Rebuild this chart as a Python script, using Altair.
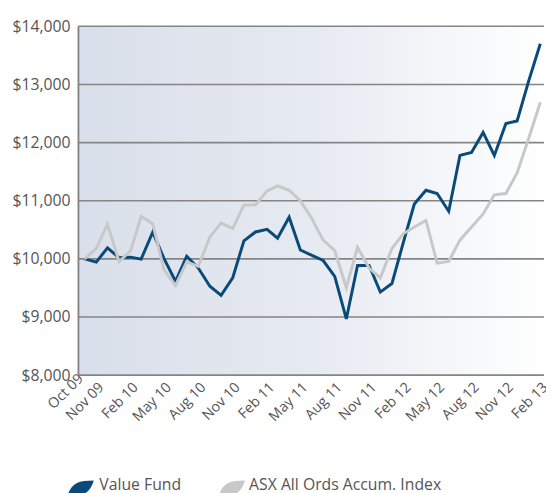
import altair as alt
import pandas as pd

# ---- data ----
months = pd.date_range("2009-10-01", "2013-02-01", freq="MS").strftime("%Y-%m-%d").tolist()

value_fund = [10000, 9945, 10190, 10020, 10030, 9995, 10460, 10010, 9615, 10045,
              9842, 9530, 9373, 9673, 10311, 10463, 10508, 10356, 10717, 10152,
              10060, 9972, 9700, 8966, 9887, 9887, 9429, 9576, 10293, 10944,
              11181, 11124, 10819, 11780, 11830, 12175, 11780, 12327, 12373, 13063,
              13700]

asx_index = [10000, 10180, 10593, 9955, 10140, 10733, 10605, 9814, 9542, 9950,
             9870, 10378, 10615, 10520, 10927, 10932, 11170, 11254, 11180, 11000,
             10690, 10322, 10141, 9503, 10198, 9842, 9673, 10180, 10435, 10548,
             10661, 9927, 9955, 10322, 10548, 10774, 11102, 11124, 11480, 12073,
             12695]

series_names = ["Value Fund", "ASX All Ords Accum. Index"]
series_colors = ["#0a4a7b", "#c8c8c8"]

x_tick_dates = ["2009-10-01", "2009-11-01", "2010-02-01", "2010-05-01", "2010-08-01",
                "2010-11-01", "2011-02-01", "2011-05-01", "2011-08-01", "2011-11-01",
                "2012-02-01", "2012-05-01", "2012-08-01", "2012-11-01", "2013-02-01"]
x_tick_labels = ["Oct 09", "Nov 09", "Feb 10", "May 10", "Aug 10", "Nov 10", "Feb 11",
                 "May 11", "Aug 11", "Nov 11", "Feb 12", "May 12", "Aug 12", "Nov 12",
                 "Feb 13"]
y_ticks = [8000, 9000, 10000, 11000, 12000, 13000, 14000]

# ---- tables ----
df = pd.DataFrame({
    "date": months * 2,
    "value": value_fund + asx_index,
    "series": [series_names[0]] * len(months) + [series_names[1]] * len(months),
    "order": [1] * len(months) + [0] * len(months),
})
grid_df = pd.DataFrame({"y": y_ticks})

W, H = 473, 354
FONT = "Open Sans"
TXT = "#555555"

def dt(s):
    y, m, d = (int(v) for v in s.split("-"))
    return alt.DateTime(year=y, month=m, date=d, utc=True)

def ms(s):
    return int(pd.Timestamp(s, tz="UTC").value // 10**6)

xscale = alt.Scale(type="utc", domain=[dt("2009-09-13"), dt("2013-02-11")])
yscale = alt.Scale(domain=[8000, 14000])
cscale = alt.Scale(domain=series_names, range=series_colors)

tick_ms = [ms(d) for d in x_tick_dates[1:]]
label_expr = ("[" + ", ".join(f"'{l}'" for l in x_tick_labels[1:]) + "][indexof(["
              + ", ".join(str(t) for t in tick_ms) + "], +datum.value)]")

xaxis = alt.Axis(values=[dt(d) for d in x_tick_dates[1:]],
                 labelExpr=label_expr,
                 labelAngle=315, labelAlign="right", labelBaseline="top",
                 labelPadding=5, labelFlush=False, labelOverlap=False,
                 domain=False, ticks=False, grid=False, title=None,
                 labelFont=FONT, labelFontSize=14.5, labelColor=TXT)
yaxis = alt.Axis(values=y_ticks, format="$,.0f", grid=False, ticks=False,
                 domain=True, domainColor="#808080", domainWidth=1.8,
                 labelPadding=8, labelFont=FONT, labelFontSize=16,
                 labelColor=TXT, title=None, zindex=1)

background = alt.Chart(alt.Data(values=[{}])).mark_rect(
    fill=alt.Gradient(
        gradient="linear",
        stops=[alt.GradientStop(color="#d9dfea", offset=0),
               alt.GradientStop(color="#e6eaf1", offset=0.5),
               alt.GradientStop(color="#ffffff", offset=1)],
        x1=0, x2=1, y1=0, y2=0),
).encode(x=alt.value(0), x2=alt.value(W), y=alt.value(0), y2=alt.value(H))

grid = alt.Chart(grid_df).mark_rule(color="#858585", strokeWidth=1.6).encode(
    y=alt.Y("y:Q", scale=yscale, axis=yaxis)
)

lines = alt.Chart(df).mark_line(strokeWidth=3, strokeJoin="miter").encode(
    x=alt.X("date:T", scale=xscale, axis=xaxis),
    y=alt.Y("value:Q", scale=yscale, axis=yaxis),
    color=alt.Color("series:N", scale=cscale, legend=None),
    order=alt.Order("order:Q"),
    detail="series:N",
)

oct_label = alt.Chart(pd.DataFrame({"date": [x_tick_dates[0]], "label": [x_tick_labels[0]]})).mark_text(
    angle=315, align="right", baseline="top", dy=-12, font=FONT, fontSize=14.5, color=TXT
).encode(x=alt.X("date:T", scale=xscale, axis=xaxis), y=alt.value(H + 5), text="label:N")

leaf = "M -1 0.6 C -0.7 -0.35 -0.25 -0.6 1 -0.6 C 0.7 0.35 0.25 0.6 -1 0.6 Z"
legend_layers = []
sym_x = [2.5, 156]
txt_x = [21.7, 173.7]
for name, color, sx, tx in zip(series_names, series_colors, sym_x, txt_x):
    ldf = pd.DataFrame({"series": [name]})
    legend_layers.append(
        alt.Chart(ldf).mark_point(shape=leaf, filled=True, size=730, opacity=1, color=color)
        .encode(x=alt.value(sx), y=alt.value(469))
    )
    legend_layers.append(
        alt.Chart(ldf).mark_text(align="left", baseline="alphabetic", font=FONT,
                                 fontSize=16, color=TXT)
        .encode(x=alt.value(tx), y=alt.value(471), text="series:N")
    )

chart = alt.layer(background, grid, lines, oct_label, *legend_layers).properties(
    width=W, height=H,
    autosize=alt.AutoSizeParams(type="none"),
    padding={"left": 71, "top": 15, "right": 2, "bottom": 116},
).configure_view(stroke=None)

chart.save("out.html", embed_options={"renderer": "svg", "actions": False})
